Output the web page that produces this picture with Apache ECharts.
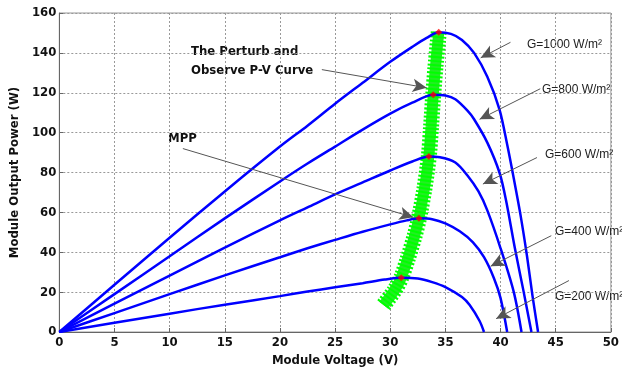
<!DOCTYPE html>
<html>
<head>
<meta charset="utf-8">
<script src="https://cdn.jsdelivr.net/npm/echarts@6/dist/echarts.min.js"></script>
<style>
  html, body { margin: 0; padding: 0; background: #fff; }
  #root { width: 622px; height: 372px; }
</style>
</head>
<body>
<div id="root"></div>
<script>
// P-V curves, [voltage V, power W]
const curve1000 = [[0,0],[5,23.7],[10,47.3],[15,70.5],[20,93],[22.5,103.5],[25,114.5],[27.5,125],[30,135.5],[32,143],[33.3,147.5],[34.4,150.3],[35.5,149.5],[36.5,146.5],[37.6,140],[38.8,128],[39.9,111.7],[40.6,94],[41.2,77],[41.8,59],[42.4,38],[42.9,18],[43.4,0]];
const curve800 = [[0,0],[5,19],[10,38],[15,57],[20,75.5],[22.5,84.5],[25,93],[27.5,101.5],[30,109.5],[32,115],[33.9,119],[35,118.6],[35.9,116.7],[37,111],[37.6,106.7],[38.8,95],[39.9,80],[40.5,66],[41.3,42],[42.1,20],[42.8,0]];
const curve600 = [[0,0],[5,14.2],[10,28.3],[15,42.3],[20,56],[22.5,62.5],[25,69],[27.5,75],[30,81],[32,85.5],[33.5,88],[34.5,87.7],[35.9,85],[37,78.5],[38,70.5],[38.8,61],[40,42],[41.2,20],[41.9,0]];
const curve400 = [[0,0],[5,9.5],[10,19],[15,28.4],[20,37.5],[22.5,42],[25,46.2],[27.5,50.3],[30,54],[31.5,56],[32.6,57],[33.8,56.6],[35,54.5],[36.3,50.5],[37.5,45],[38.5,37.5],[39.4,27],[40,17],[40.6,0]];
const curve200 = [[0,0],[5,4.6],[10,9.2],[15,13.7],[20,18],[22.5,20.3],[25,22.4],[27.5,24.5],[29.5,26.3],[31,27.2],[32.5,26.8],[33.8,25],[35,22.5],[36.5,17.5],[37.2,13.5],[38.1,5.5],[38.5,0]];

// perturb & observe track and maximum power points
const poTrack = [[29.4,13.5],[30.4,21],[31,27.3],[31.6,37],[32.2,48],[32.6,57],[33.1,72],[33.5,88.3],[33.7,103],[33.9,119.2],[34.1,133],[34.4,150.5]];
const mppPoints = [[31,27.2],[32.6,57],[33.5,88],[33.9,119],[34.4,150.3]];

const xTicks = [0,5,10,15,20,25,30,35,40,45,50];
const yTicks = [0,20,40,60,80,100,120,140,160];

// annotation arrows: [from, to] in data units
const arrows = [
  [[23.8,131.6],[33.3,122.5]],
  [[11.2,92],[32.1,57.5]],
  [[40.9,145.3],[38.2,137.5]],
  [[43.6,122],[38.1,106.7]],
  [[43.3,87.5],[38.4,74.2]],
  [[44.6,48.3],[39.1,33]],
  [[46.2,25.8],[39.6,6.7]]
];

const blueLine = (name, data) => ({
  name, type: 'line', data, smooth: 0.3, symbol: 'none', z: 3,
  lineStyle: { color: '#0000ff', width: 2.5 }
});

const chart = echarts.init(document.getElementById('root'));
const tickFont = { fontFamily: 'DejaVu Sans Condensed', fontWeight: 'bold', fontSize: 13, color: '#111' };

chart.setOption({
  animation: false,
  grid: { left: 52, right: 8, top: 13, bottom: 39, show: true, borderColor: '#999', borderWidth: 1 },
  xAxis: {
    type: 'value', min: 0, max: 50, interval: 5,
    name: 'Module Voltage (V)', nameLocation: 'middle', nameGap: 22,
    nameTextStyle: { fontFamily: 'DejaVu Sans Condensed', fontWeight: 'bold', fontSize: 13, color: '#111' },
    axisLine: { lineStyle: { color: '#666', width: 1 } },
    axisTick: { inside: true, length: 4, lineStyle: { color: '#666' } },
    axisLabel: Object.assign({ margin: 4, formatter: v => xTicks.includes(v) ? String(v) : '' }, tickFont),
    splitLine: { show: true, lineStyle: { color: '#999', type: [2, 2], width: 1 } }
  },
  yAxis: {
    type: 'value', min: 0, max: 160, interval: 20,
    name: 'Module Output Power (W)', nameLocation: 'middle', nameGap: 34,
    nameTextStyle: { fontFamily: 'DejaVu Sans Condensed', fontWeight: 'bold', fontSize: 13, color: '#111' },
    axisLine: { show: true, lineStyle: { color: '#666', width: 1 } },
    axisTick: { show: true, inside: true, length: 4, lineStyle: { color: '#666' } },
    axisLabel: Object.assign({ margin: 3, formatter: v => yTicks.includes(v) ? String(v) : '' }, tickFont),
    splitLine: { show: true, lineStyle: { color: '#999', type: [2, 2], width: 1 } }
  },
  series: [
    {
      name: 'P&O', type: 'line', data: poTrack, smooth: 0.3, symbol: 'none', z: 2,
      lineStyle: { color: '#22ee22', width: 11, cap: 'butt' }
    },
    {
      name: 'P&O edge', type: 'line', data: poTrack, smooth: 0.3, symbol: 'none', z: 2,
      lineStyle: { color: '#00ff00', width: 16, type: [2, 2], cap: 'butt' }
    },
    blueLine('G=1000', curve1000),
    blueLine('G=800', curve800),
    blueLine('G=600', curve600),
    blueLine('G=400', curve400),
    blueLine('G=200', curve200),
    {
      name: 'MPP', type: 'scatter', data: mppPoints, symbol: 'diamond', symbolSize: 7, z: 5,
      itemStyle: { color: '#ff0000' }
    },
    {
      name: 'arrows', type: 'line', data: [], z: 6,
      markLine: {
        silent: true, animation: false,
        symbol: ['none', 'arrow'], symbolSize: [10, 14],
        label: { show: false },
        lineStyle: { color: '#555', width: 1, type: 'solid' },
        data: arrows.map(a => [{ coord: a[0] }, { coord: a[1] }])
      }
    }
  ],
  graphic: [
    { type: 'text', left: 191, top: 45, style: { text: 'The Perturb and', font: 'bold 13px "DejaVu Sans Condensed"', fill: '#111' } },
    { type: 'text', left: 191, top: 64, style: { text: 'Observe P-V Curve', font: 'bold 13px "DejaVu Sans Condensed"', fill: '#111' } },
    { type: 'text', left: 168, top: 132, style: { text: 'MPP', font: 'bold 13px "DejaVu Sans Condensed"', fill: '#111' } },
    { type: 'text', left: 527, top: 39, style: { text: 'G=1000 W/m²', font: '12px "Liberation Sans"', fill: '#222' } },
    { type: 'text', left: 542, top: 84, style: { text: 'G=800 W/m²', font: '12px "Liberation Sans"', fill: '#222' } },
    { type: 'text', left: 545, top: 149, style: { text: 'G=600 W/m²', font: '12px "Liberation Sans"', fill: '#222' } },
    { type: 'text', left: 555, top: 226, style: { text: 'G=400 W/m²', font: '12px "Liberation Sans"', fill: '#222' } },
    { type: 'text', left: 555, top: 291, style: { text: 'G=200 W/m²', font: '12px "Liberation Sans"', fill: '#222' } }
  ]
});
</script>
</body>
</html>
